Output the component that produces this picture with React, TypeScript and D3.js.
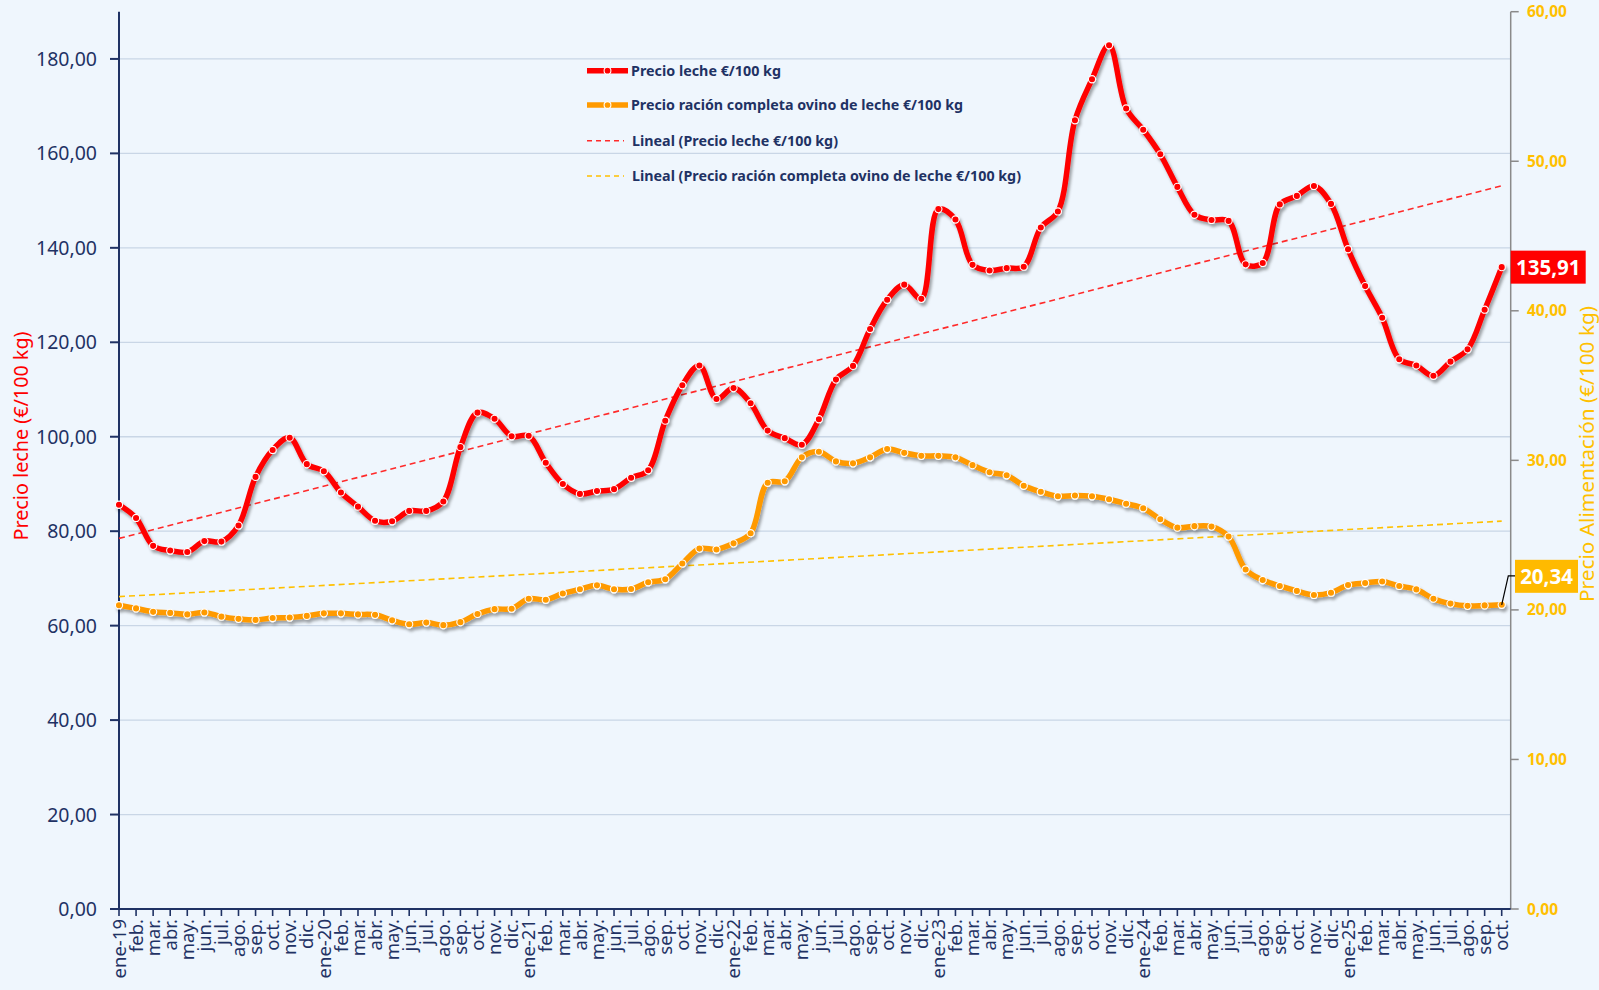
import React from 'react';
import * as d3 from 'd3';

// ---------- DATA ----------
const MONTHS = ['ene', 'feb.', 'mar.', 'abr.', 'may.', 'jun.', 'jul.', 'ago.', 'sep.', 'oct.', 'nov.', 'dic.'];
const YEARS = ['19', '20', '21', '22', '23', '24', '25'];
const N_MONTHS = 82; // ene-19 .. oct-25
const categories: string[] = d3.range(N_MONTHS).map((i) =>
  i % 12 === 0 ? `ene-${YEARS[i / 12]}` : MONTHS[i % 12]
);

// Precio leche €/100 kg (left axis)
const milkPrice = [
  85.6, 82.8, 76.9, 75.9, 75.6, 77.9, 77.8, 81.2, 91.5, 97.2, 99.8, 94.2,
  92.7, 88.2, 85.2, 82.2, 82.1, 84.3, 84.3, 86.3, 97.8, 105.1, 103.8, 100.1,
  100.2, 94.5, 90.0, 87.9, 88.5, 88.9, 91.3, 92.9, 103.4, 110.9, 115.1, 108.0,
  110.3, 107.1, 101.3, 99.7, 98.3, 103.7, 112.1, 115.0, 122.8, 129.0, 132.2, 129.2,
  148.2, 146.0, 136.4, 135.2, 135.7, 136.0, 144.3, 147.7, 167.0, 175.7, 182.9, 169.5,
  165.0, 159.8, 152.9, 147.0, 145.9, 145.7, 136.5, 136.8, 149.2, 151.0, 153.1, 149.3,
  139.7, 131.9, 125.2, 116.4, 115.1, 112.9, 115.9, 118.5, 126.9, 135.91,
];

// Precio ración completa ovino de leche €/100 kg (right axis)
const feedPrice = [
  20.31, 20.1, 19.87, 19.8, 19.7, 19.83, 19.55, 19.4, 19.33, 19.46, 19.49, 19.6,
  19.77, 19.77, 19.7, 19.67, 19.3, 19.04, 19.15, 18.98, 19.18, 19.73, 20.05, 20.08,
  20.75, 20.68, 21.1, 21.38, 21.64, 21.38, 21.4, 21.85, 22.05, 23.1, 24.1, 24.04,
  24.45, 25.13, 28.5, 28.6, 30.2, 30.58, 29.93, 29.8, 30.2, 30.76, 30.5, 30.3,
  30.3, 30.2, 29.68, 29.2, 29.0, 28.3, 27.9, 27.6, 27.65, 27.6, 27.4, 27.1,
  26.8, 26.06, 25.5, 25.6, 25.57, 24.9, 22.7, 22.0, 21.6, 21.27, 21.0, 21.15,
  21.66, 21.8, 21.9, 21.6, 21.37, 20.75, 20.42, 20.27, 20.3, 20.34,
];

const leftTicks = [0, 20, 40, 60, 80, 100, 120, 140, 160, 180];
const rightTicks = [0, 10, 20, 30, 40, 50, 60];
const legendLabels = [
  'Precio leche €/100 kg',
  'Precio ración completa ovino de leche €/100 kg',
  'Lineal (Precio leche €/100 kg)',
  'Lineal (Precio ración completa ovino de leche €/100 kg)',
];
const leftTitle = 'Precio leche (€/100 kg)';
const rightTitle = 'Precio Alimentación (€/100 kg)';

// ---------- HELPERS ----------
function linReg(vals: number[]) {
  const n = vals.length;
  const xs = d3.range(n);
  const mx = d3.mean(xs)!;
  const my = d3.mean(vals)!;
  let num = 0, den = 0;
  for (let i = 0; i < n; i++) {
    num += (xs[i] - mx) * (vals[i] - my);
    den += (xs[i] - mx) * (xs[i] - mx);
  }
  const b = num / den;
  const a = my - b * mx;
  return (x: number) => a + b * x;
}
const fmt = (v: number, d = 2) => v.toFixed(d).replace('.', ',');

const W = 1599, H = 990;
const X0 = 119, XN = 1501.7, XR = 1510.7, YT = 11.7, YB = 909;
const BG = '#EFF6FD';
const NAVY = '#1F3264';
const RED = '#FF0000';
const ORANGE = '#FF9A00';
const GOLD = '#FFC000';
const FONT = "'Noto Sans', 'Open Sans', sans-serif";

export default function App() {
  const x = d3.scaleLinear().domain([0, N_MONTHS - 1]).range([X0, XN]);
  const yL = d3.scaleLinear().domain([0, 190]).range([YB, YT]);
  const yR = d3.scaleLinear().domain([0, 60]).range([YB, YT]);

  const lineL = d3.line<number>().x((_, i) => x(i)).y((d) => yL(d)).curve(d3.curveCatmullRom.alpha(0.5));
  const lineR = d3.line<number>().x((_, i) => x(i)).y((d) => yR(d)).curve(d3.curveCatmullRom.alpha(0.5));

  const trendMilk = linReg(milkPrice);
  const trendFeed = linReg(feedPrice);
  const last = N_MONTHS - 1;

  const lastMilk = milkPrice[last];
  const lastFeed = feedPrice[last];
  const pxM = x(last), pyM = yL(lastMilk);
  const pxF = x(last), pyF = yR(lastFeed);

  const legendY = [70.7, 105, 140.7, 176];

  return (
    <svg width={W} height={H} style={{ position: 'absolute', left: 0, top: 0, display: 'block' }} fontFamily={FONT}>
      <defs>
        <filter id="shadow" x="-5%" y="-10%" width="110%" height="130%">
          <feDropShadow dx="2" dy="3" stdDeviation="1.6" floodColor="#000" floodOpacity="0.35" />
        </filter>
      </defs>
      <rect x={0} y={0} width={W} height={H} fill={BG} />

      {/* gridlines */}
      {leftTicks.filter((t) => t > 0).map((t) => (
        <line key={'g' + t} x1={X0} x2={XR} y1={yL(t)} y2={yL(t)} stroke="#C9D6E6" strokeWidth={1.3} />
      ))}

      {/* left axis */}
      <line x1={X0} x2={X0} y1={YT} y2={YB} stroke={NAVY} strokeWidth={2} />
      {leftTicks.map((t) => (
        <g key={'lt' + t}>
          <line x1={X0 - 9} x2={X0} y1={yL(t)} y2={yL(t)} stroke={NAVY} strokeWidth={2} />
          <text x={97} y={yL(t)} dy="0.36em" textAnchor="end" fontSize={19.5} fill={NAVY}>{fmt(t)}</text>
        </g>
      ))}

      {/* right axis */}
      <line x1={XR} x2={XR} y1={YT} y2={YB} stroke="#8A8A8A" strokeWidth={1.5} />
      {rightTicks.map((t) => (
        <g key={'rt' + t}>
          <line x1={XR} x2={XR + 8} y1={yR(t)} y2={yR(t)} stroke="#8A8A8A" strokeWidth={1.5} />
          <text x={1527} y={yR(t)} dy="0.36em" fontSize={15.5} fontWeight={700} fill={GOLD}>{fmt(t)}</text>
        </g>
      ))}

      {/* bottom axis */}
      <line x1={X0} x2={XR} y1={YB} y2={YB} stroke={NAVY} strokeWidth={2} />
      {categories.map((c, i) => (
        <g key={'xt' + i}>
          <line x1={x(i)} x2={x(i)} y1={YB} y2={YB + 7} stroke={NAVY} strokeWidth={1.6} />
          <text transform={`translate(${x(i)},${919}) rotate(-90)`} textAnchor="end" dy="0.36em" fontSize={18.5} fill={NAVY}>{c}</text>
        </g>
      ))}

      {/* axis titles */}
      <text transform={`translate(21,436) rotate(-90)`} textAnchor="middle" dy="0.36em" fontSize={19} fill={RED} textLength={209} lengthAdjust="spacingAndGlyphs">{leftTitle}</text>
      <text transform={`translate(1587,454) rotate(-90)`} textAnchor="middle" dy="0.36em" fontSize={19} fill={GOLD} textLength={296} lengthAdjust="spacingAndGlyphs">{rightTitle}</text>

      {/* trend lines */}
      <line x1={x(0)} x2={x(last)} y1={yL(trendMilk(0))} y2={yL(trendMilk(last))} stroke="#FF2A2A" strokeWidth={1.6} strokeDasharray="6 4" />
      <line x1={x(0)} x2={x(last)} y1={yR(trendFeed(0))} y2={yR(trendFeed(last))} stroke={GOLD} strokeWidth={1.6} strokeDasharray="6 4" />

      {/* feed series */}
      <g filter="url(#shadow)">
        <path d={lineR(feedPrice) || ''} fill="none" stroke={ORANGE} strokeWidth={5.5} strokeLinejoin="round" strokeLinecap="round" />
        {feedPrice.map((v, i) => (
          <circle key={'f' + i} cx={x(i)} cy={yR(v)} r={3.6} fill={ORANGE} stroke="#fff" strokeWidth={1.1} />
        ))}
      </g>

      {/* milk series */}
      <g filter="url(#shadow)">
        <path d={lineL(milkPrice) || ''} fill="none" stroke={RED} strokeWidth={5.5} strokeLinejoin="round" strokeLinecap="round" />
        {milkPrice.map((v, i) => (
          <circle key={'m' + i} cx={x(i)} cy={yL(v)} r={3.6} fill={RED} stroke="#fff" strokeWidth={1.1} />
        ))}
      </g>

      {/* data labels */}
      <rect x={XR} y={pyM - 16.5} width={75} height={33} fill={RED} />
      <text x={XR + 37.5} y={pyM} dy="0.36em" textAnchor="middle" fontSize={20.5} fontWeight={700} fill="#fff">{fmt(lastMilk)}</text>

      <polyline points={`${pxF},${pyF} ${pxF + 6.6},${pyF - 29} ${1515},${pyF - 29}`} fill="none" stroke="#000" strokeWidth={1.2} />
      <rect x={1515} y={pyF - 45} width={63} height={33} fill="#FFBA00" />
      <text x={1515 + 31.5} y={pyF - 28.5} dy="0.36em" textAnchor="middle" fontSize={20.5} fontWeight={700} fill="#fff">{fmt(lastFeed)}</text>

      {/* legend */}
      <g>
        <line x1={587} x2={628} y1={legendY[0]} y2={legendY[0]} stroke={RED} strokeWidth={5.5} />
        <circle cx={607.5} cy={legendY[0]} r={3.4} fill={RED} stroke="#fff" strokeWidth={1.1} />
        <line x1={587} x2={628} y1={legendY[1]} y2={legendY[1]} stroke={ORANGE} strokeWidth={5.5} />
        <circle cx={607.5} cy={legendY[1]} r={3.4} fill={ORANGE} stroke="#fff" strokeWidth={1.1} />
        <line x1={587} x2={624} y1={legendY[2]} y2={legendY[2]} stroke="#FF2A2A" strokeWidth={1.6} strokeDasharray="5 4" />
        <line x1={587} x2={624} y1={legendY[3]} y2={legendY[3]} stroke={GOLD} strokeWidth={1.6} strokeDasharray="5 4" />
        {legendLabels.map((l, i) => (
          <text key={'lg' + i} x={i < 2 ? 631 : 632} y={legendY[i]} dy="0.36em" fontSize={14.5} fontWeight={700} fill={NAVY}
            textLength={[150, 332, 206, 389][i]} lengthAdjust="spacingAndGlyphs">{l}</text>
        ))}
      </g>
    </svg>
  );
}
